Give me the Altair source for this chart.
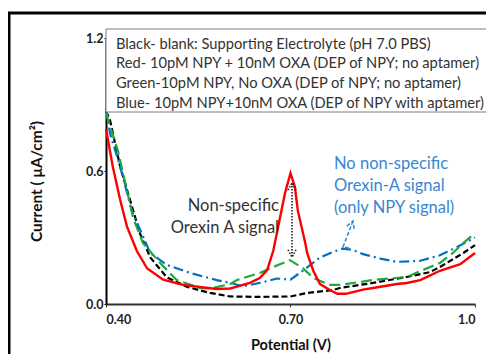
import altair as alt
import pandas as pd

# ---------------- data ----------------
black_v = [0.40, 0.4065, 0.423, 0.439, 0.455, 0.472, 0.499, 0.532, 0.569, 0.602, 0.650, 0.700,
           0.727, 0.769, 0.780, 0.834, 0.889, 0.927, 0.943, 0.981, 1.0]
black_i = [0.87, 0.83, 0.62, 0.47, 0.32, 0.21, 0.12, 0.077, 0.05, 0.034, 0.032, 0.034,
           0.05, 0.063, 0.072, 0.095, 0.122, 0.144, 0.167, 0.23, 0.266]

red_v = [0.40, 0.411, 0.423, 0.434, 0.450, 0.467, 0.493, 0.525, 0.580, 0.602, 0.634, 0.650,
         0.662, 0.672, 0.683, 0.691, 0.700, 0.707, 0.712, 0.724, 0.727, 0.737, 0.748, 0.764,
         0.776, 0.790, 0.818, 0.834, 0.873, 0.889, 0.911, 0.922, 0.943, 0.954, 0.976, 1.0]
red_i = [0.79, 0.62, 0.47, 0.35, 0.24, 0.16, 0.11, 0.086, 0.068, 0.07, 0.095, 0.117,
         0.153, 0.24, 0.39, 0.50, 0.59, 0.53, 0.42, 0.275, 0.23, 0.15, 0.09, 0.063,
         0.046, 0.046, 0.065, 0.072, 0.09, 0.095, 0.108, 0.122, 0.150, 0.160, 0.180, 0.23]

green_v = [0.40, 0.4195, 0.431, 0.444, 0.460, 0.488, 0.515, 0.553, 0.569, 0.602, 0.613, 0.650,
           0.672, 0.699, 0.720, 0.737, 0.764, 0.780, 0.834, 0.889, 0.927, 0.943, 0.964, 0.981, 1.0]
green_i = [0.86, 0.69, 0.55, 0.39, 0.275, 0.185, 0.108, 0.072, 0.07, 0.09, 0.108, 0.14,
           0.167, 0.198, 0.162, 0.117, 0.086, 0.086, 0.108, 0.122, 0.167, 0.185, 0.23, 0.275, 0.32]

blue_v = [0.40, 0.4065, 0.423, 0.442, 0.472, 0.499, 0.537, 0.580, 0.602, 0.623, 0.650, 0.678,
          0.700, 0.720, 0.748, 0.769, 0.785, 0.800, 0.818, 0.846, 0.873, 0.911, 0.943, 0.971, 1.0]
blue_i = [0.885, 0.77, 0.62, 0.42, 0.23, 0.176, 0.14, 0.108, 0.095, 0.08, 0.095, 0.115,
          0.11, 0.15, 0.21, 0.235, 0.25, 0.245, 0.225, 0.205, 0.19, 0.195, 0.22, 0.257, 0.30]

x_ticks = [0.4, 0.7, 1.0]
y_ticks = [0.0, 0.6, 1.2]

legend_lines = [
    "Black- blank: Supporting Electrolyte (pH 7.0 PBS)",
    "Red- 10pM NPY + 10nM OXA (DEP of NPY; no aptamer)",
    "Green-10pM NPY, No OXA (DEP of NPY; no aptamer)",
    "Blue- 10pM NPY+10nM OXA (DEP of NPY with aptamer)",
]
note_black = ["Non-specific", "Orexin A signal"]
note_blue = ["No non-specific", "Orexin-A signal", "(only NPY signal)"]

# arrows (data units)
black_arrow_v = [0.7024, 0.7024, 0.6959, 0.7024, 0.7089, 0.6959, 0.7024, 0.7089]
black_arrow_i = [0.546, 0.212, 0.514, 0.546, 0.514, 0.244, 0.212, 0.244]
black_arrow_part = [0, 0, 1, 1, 1, 2, 2, 2]

blue_arrow_v = [0.7951, 0.7854, 0.8016, 0.8036, 0.8016, 0.7915]
blue_arrow_i = [0.2526, 0.2571, 0.3744, 0.3388, 0.3744, 0.3514]
blue_arrow_part = [0, 0, 0, 1, 1, 1]

FONT = "Lato"
W, H = 369, 266

xs = alt.Scale(domain=[0.4, 1.0], nice=False, zero=False)
ys = alt.Scale(domain=[0, 1.2], nice=False, zero=False)


def series(v, i, color, dash, width=2.2):
    df = pd.DataFrame({"V": v, "I": i, "k": range(len(v))})
    kw = dict(color=color, strokeWidth=width)
    if dash:
        kw["strokeDash"] = dash
    return alt.Chart(df).mark_line(**kw).encode(
        x=alt.X("V:Q", scale=xs), y=alt.Y("I:Q", scale=ys), order="k:Q")


frame = alt.Chart(pd.DataFrame({"a": [0]})).mark_rect(
    fill=None, stroke="black", strokeWidth=3).encode(
    x=alt.value(-97), x2=alt.value(430), y=alt.value(-25), y2=alt.value(420))

base = alt.Chart(pd.DataFrame({"V": [0.4], "I": [0.0]})).mark_point(opacity=0).encode(
    x=alt.X("V:Q", scale=xs, title="Potential (V)",
            axis=alt.Axis(values=x_ticks,
                          labelExpr="datum.value == 1 ? '1.0' : format(datum.value, '.2f')",
                          grid=False, tickSize=3, labelPadding=6, domainColor="#333",
                          domainWidth=2, tickColor="#333", labelFont=FONT, labelFontWeight="bold",
                          labelFontSize=12.5, labelColor="#222", titleFont=FONT, titleFontSize=14.5,
                          titleFontWeight="bold", titleColor="#111", titlePadding=13)),
    y=alt.Y("I:Q", scale=ys, title="Current ( μA/cm²)",
            axis=alt.Axis(values=y_ticks, format=".1f", grid=False, tickSize=2, labelPadding=1,
                          domainColor="black", domainWidth=2, tickColor="black", labelFont=FONT,
                          labelFontWeight="bold", labelFontSize=12.5, labelColor="#222",
                          titleFont=FONT, titleFontSize=15.5, titleFontWeight="bold",
                          titleColor="#111", titleX=-62, titleY=143)),
)

black = series(black_v, black_i, "black", [6, 3])
blue = series(blue_v, blue_i, "#0070c0", [10, 4, 2, 4])
green = series(green_v, green_i, "#1fa83c", [11, 5])
red = series(red_v, red_i, "#ff0000", None, 2.4)

bdf = pd.DataFrame({"V": black_arrow_v, "I": black_arrow_i, "p": black_arrow_part,
                    "k": range(len(black_arrow_v))})
barrow = alt.Chart(bdf).mark_line(color="#222", strokeWidth=1.6, strokeDash=[1.5, 1.5]).encode(
    x=alt.X("V:Q", scale=xs), y=alt.Y("I:Q", scale=ys), detail="p:N", order="k:Q")

udf = pd.DataFrame({"V": blue_arrow_v, "I": blue_arrow_i, "p": blue_arrow_part,
                    "k": range(len(blue_arrow_v))})
uarrow = alt.Chart(udf).mark_line(color="#3a86cf", strokeWidth=1.5, strokeDash=[4, 2]).encode(
    x=alt.X("V:Q", scale=xs), y=alt.Y("I:Q", scale=ys), detail="p:N", order="k:Q")

one = pd.DataFrame({"a": [0]})
legend_box = alt.Chart(one).mark_rect(fill="white", stroke="#7f7f7f", strokeWidth=1).encode(
    x=alt.value(0), x2=alt.value(381), y=alt.value(-9), y2=alt.value(74))
legend_text = alt.Chart(one).mark_text(
    text=legend_lines, align="left", baseline="top", font=FONT, fontSize=14.7,
    color="#333", lineHeight=19.7).encode(x=alt.value(10), y=alt.value(-1.5))

t_black = alt.Chart(one).mark_text(
    text=note_black, align="right", baseline="top", font=FONT, fontSize=16.5,
    color="#333", lineHeight=22).encode(x=alt.value(173), y=alt.value(160))
t_blue = alt.Chart(one).mark_text(
    text=note_blue, align="left", baseline="top", font=FONT, fontSize=16.5,
    color="#3a86cf", lineHeight=22).encode(x=alt.value(228), y=alt.value(118))

chart = alt.layer(
    frame, base, black, blue, green, red, barrow, uarrow, legend_box, legend_text, t_black, t_blue
).properties(
    width=W, height=H,
    autosize=alt.AutoSizeParams(type="none"),
    padding={"left": 98, "top": 30, "right": 11, "bottom": 50},
    background="white",
).configure_view(stroke=None)

chart.save("out.html", embed_options={"renderer": "svg", "actions": False})
